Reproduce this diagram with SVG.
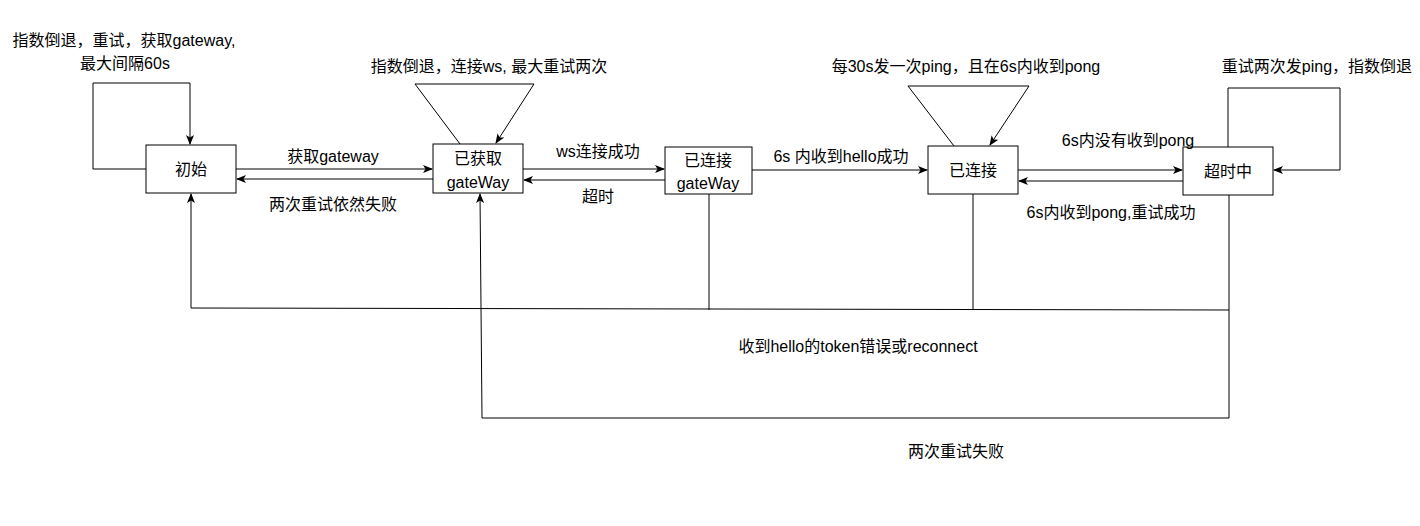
<svg xmlns="http://www.w3.org/2000/svg" width="1420" height="526" viewBox="0 0 1420 526">
<defs>
<marker id="ah" markerWidth="10" markerHeight="8" refX="9" refY="4" orient="auto" markerUnits="userSpaceOnUse">
<path d="M0,0 L10,4 L0,8 L2.5,4 Z" fill="#000"/>
</marker>
</defs>
<style>
.box{fill:#fff;stroke:#000;stroke-width:1}
.t{font-family:"Liberation Sans","Noto Sans CJK SC",sans-serif;font-size:16px;fill:#000;text-anchor:middle}
.c{fill:none;stroke:#000;stroke-width:1}
.a{marker-end:url(#ah)}
</style>
<rect width="1420" height="526" fill="#fff"/>
<g id="connectors">
<path class="c a" d="M146,169 H93 V83 H190 V144"/>
<path class="c a" d="M236,169 H432"/>
<path class="c a" d="M433,179 H237"/>
<path class="c a" d="M460,144 L415,84 H534 L496,143"/>
<path class="c a" d="M523,169 H664"/>
<path class="c a" d="M665,180 H524"/>
<path class="c a" d="M752,170 H927"/>
<path class="c a" d="M954,146 L908,86 H1029 L990,145"/>
<path class="c a" d="M1018,170 H1182"/>
<path class="c a" d="M1183,181 H1019"/>
<path class="c a" d="M1228,147 V88 H1340 V170 H1274"/>
<path class="c a" d="M1229,195 V310 L191,308 V194"/>
<path class="c" d="M709,194 V310"/>
<path class="c" d="M973,194 V310"/>
<path class="c a" d="M1229,310 V418 H482 L480,194"/>
</g>
<g id="node-init">
<rect class="box" x="146" y="145" width="90" height="48"/>
<text class="t" x="191" y="175">初始</text>
</g>
<g id="node-got-gateway">
<rect class="box" x="433" y="144" width="90" height="49"/>
<text class="t" x="478" y="164">已获取</text>
<text class="t" x="478" y="188">gateWay</text>
</g>
<g id="node-connecting-gateway">
<rect class="box" x="665" y="147" width="87" height="47"/>
<text class="t" x="708" y="166">已连接</text>
<text class="t" x="708" y="189">gateWay</text>
</g>
<g id="node-connected">
<rect class="box" x="928" y="146" width="90" height="48"/>
<text class="t" x="973" y="176">已连接</text>
</g>
<g id="node-timeout">
<rect class="box" x="1183" y="147" width="90" height="48"/>
<text class="t" x="1228" y="177">超时中</text>
</g>
<g id="labels">
<text class="t" x="124" y="46">指数倒退，重试，获取gateway,</text>
<text class="t" x="125" y="69">最大间隔60s</text>
<text class="t" x="489" y="72">指数倒退，连接ws, 最大重试两次</text>
<text class="t" x="966" y="72">每30s发一次ping，且在6s内收到pong</text>
<text class="t" x="1317" y="72">重试两次发ping，指数倒退</text>
<text class="t" x="333" y="162">获取gateway</text>
<text class="t" x="333" y="210">两次重试依然失败</text>
<text class="t" x="598" y="157">ws连接成功</text>
<text class="t" x="598" y="202">超时</text>
<text class="t" x="841" y="162">6s 内收到hello成功</text>
<text class="t" x="1128" y="146">6s内没有收到pong</text>
<text class="t" x="1111" y="218">6s内收到pong,重试成功</text>
<text class="t" x="858" y="352">收到hello的token错误或reconnect</text>
<text class="t" x="956" y="457">两次重试失败</text>
</g>
</svg>
